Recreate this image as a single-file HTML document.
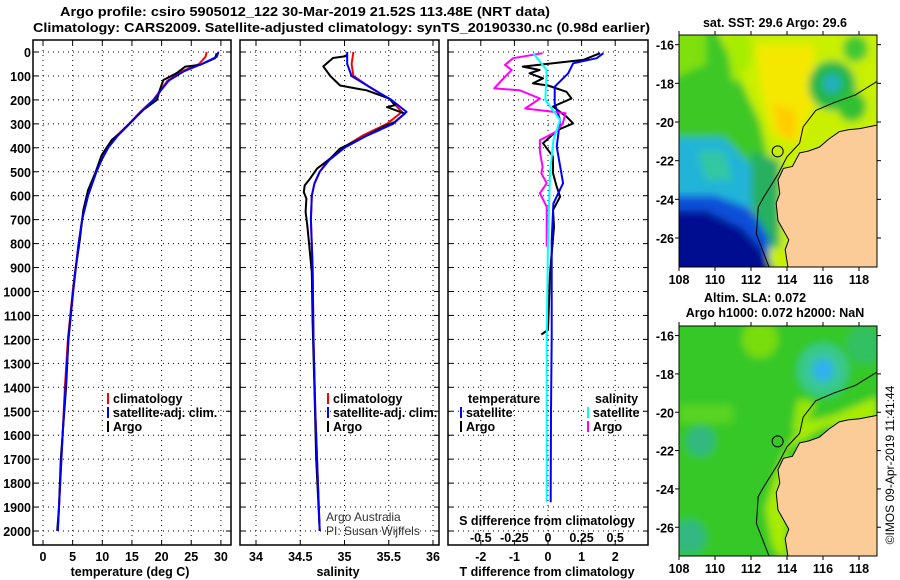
<!DOCTYPE html>
<html><head><meta charset="utf-8"><style>
html,body{margin:0;padding:0;background:#fff;}
svg{display:block;font-family:"Liberation Sans",Arial,sans-serif;}
.b{font-weight:bold;font-size:12.5px;}
.t{font-weight:bold;font-size:13px;}
.n{font-weight:normal;font-size:12px;}
</style></head><body>
<svg id="fig" width="900" height="580" viewBox="0 0 900 580">
<defs>
<clipPath id="c1"><rect x="33" y="40" width="198" height="505"/></clipPath>
<clipPath id="c2"><rect x="240" y="40" width="199" height="505"/></clipPath>
<clipPath id="c3"><rect x="448" y="40" width="200" height="505"/></clipPath>
<clipPath id="m1"><rect x="679" y="35" width="198" height="232"/></clipPath>
<clipPath id="m2"><rect x="679" y="326" width="198" height="230"/></clipPath>
<filter id="bl" x="-20%" y="-20%" width="140%" height="140%"><feGaussianBlur stdDeviation="4"/></filter>
</defs>
<text x="60" y="16" class="t" textLength="490" lengthAdjust="spacingAndGlyphs">Argo profile: csiro 5905012_122 30-Mar-2019 21.52S 113.48E (NRT data)</text>
<text x="33" y="32" class="t" textLength="617" lengthAdjust="spacingAndGlyphs">Climatology: CARS2009. Satellite-adjusted climatology: synTS_20190330.nc (0.98d earlier)</text>
<g id="panels"></g>
<g id="maps"></g>
</svg>
<script>
// ---- depth axis ----
const depthTicks=[0,100,200,300,400,500,600,700,800,900,1000,1100,1200,1300,1400,1500,1600,1700,1800,1900,2000];
// ---- temperature panel data ----
const tempTicks=[0,5,10,15,20,25,30];
const argoTDepth=[5,26,54,61,89,117,158,200,242,284,339,367,430,506,576,660,785,924,1064,1190,1400,1500,1700,1900,2000];
const argoT=[29.3,29.0,26.5,24.0,22.5,20.3,19.7,19.2,16.9,15.2,13.0,11.6,9.9,8.8,7.6,6.8,6.2,5.4,4.8,4.3,3.9,3.6,3.0,2.7,2.4];
const climTDepth=[0,20,50,80,120,160,200,250,300,350,400,450,500,600,700,800,1000,1200,1400,1600,1800,2000];
const climT=[27.6,27.4,26.3,23.5,21.0,19.8,18.6,16.4,14.5,12.4,10.9,9.8,9.0,7.5,6.6,6.0,5.0,4.2,3.7,3.3,2.9,2.5];
const satT=[29.6,29.3,26.8,23.8,21.2,19.9,18.7,16.5,14.6,12.6,11.0,9.9,9.0,7.6,6.6,6.0,5.1,4.3,3.8,3.3,2.9,2.5];
// ---- salinity panel data ----
const salTicks=[34,34.5,35,35.5,36];
const argoSDepth=[10,17,25,60,100,140,153,160,195,222,230,250,257,292,312,362,403,445,487,529,557,585,612,668,724,919,1128,1400,1700,2000];
const argoS=[35.02,35.02,34.87,34.76,34.84,34.95,35.14,35.25,35.51,35.57,35.48,35.63,35.68,35.57,35.44,35.18,34.95,34.84,34.69,34.61,34.55,34.54,34.57,34.56,34.58,34.63,34.64,34.66,34.68,34.72];
const climSDepth=[0,50,100,150,200,250,300,350,400,450,500,550,600,700,900,1200,1500,2000];
const climS=[35.1,35.08,35.1,35.3,35.52,35.65,35.48,35.2,34.98,34.82,34.72,34.66,34.63,34.62,34.64,34.65,34.67,34.72];
const satS=[35.03,35.03,35.08,35.3,35.53,35.7,35.55,35.25,35.0,34.83,34.72,34.66,34.63,34.62,34.64,34.65,34.67,34.72];
// ---- difference panel data ----
const diffTTicks=[-2,-1,0,1,2];
const diffSTicks=[-0.5,-0.25,0,0.25,0.5];
const diffSTickLabels=["-0.5","-0.25","0","0.25","0.5"];
const satDTDepth=[5,26,47,89,145,214,284,395,548,632,785,1190,1500,1880];
const satDT=[1.65,1.45,0.75,0.6,0.2,0.2,0.36,0.26,0.45,0.16,0.11,0.11,0.09,0.08];
const argoDTDepth=[5,33,47,61,75,89,110,131,140,166,194,228,270,298,325,381,437,506,562,604,660,730,924,1160,1180];
const argoDT=[1.55,1.05,0.15,-0.75,-0.25,-0.55,-0.15,-0.45,0,0.55,0.7,0.15,0.55,0.75,0.3,-0.15,0.15,0.15,0.26,0.36,0.15,0.18,0.06,0,-0.2];
const argoDSDepth=[5,26,54,75,103,152,160,194,236,256,298,333,368,416,480,506,548,590,646,813];
const argoDS=[-0.04,-0.26,-0.32,-0.27,-0.32,-0.4,-0.21,-0.06,-0.17,0.13,0.11,0.06,-0.06,-0.06,-0.04,-0.05,-0.01,-0.06,-0.01,-0.01];
const satDSDepth=[5,75,200,284,367,506,785,1200,1500,1880];
const satDS=[-0.11,-0.01,-0.02,0.09,0.04,0.015,0,-0.01,-0.01,-0.01];

const NS='http://www.w3.org/2000/svg';
function mk(tag,attrs,parent,text){const e=document.createElementNS(NS,tag);for(const k in attrs)e.setAttribute(k,attrs[k]);if(text!==undefined)e.textContent=text;parent.appendChild(e);return e;}
const yD=d=>52+d*0.2395;
const xT=t=>43+5.93*t;
const xS=s=>256+88.5*(s-34);
const xDT=t=>548+33.6*t;
const xDS=s=>548+134.4*s;
const P=document.getElementById('panels');

function panel(x0,x1,xTicks,xf,name){
  const g=mk('g',{},P);
  
  
  depthTicks.forEach(d=>{const l=mk('line',{x1:x0,x2:x1,y1:yD(d),y2:yD(d),stroke:'#000','stroke-width':1,'stroke-dasharray':'1,4'},g);
    
    mk('line',{x1:x0,x2:x0+5,y1:yD(d),y2:yD(d),stroke:'#000'},g);mk('line',{x1:x1,x2:x1-5,y1:yD(d),y2:yD(d),stroke:'#000'},g);});
  xTicks.forEach(v=>{const x=xf(v);const l=mk('line',{x1:x,x2:x,y1:40,y2:545,stroke:'#000','stroke-width':1,'stroke-dasharray':'1,4'},g);
    
    mk('line',{x1:x,x2:x,y1:545,y2:540,stroke:'#000'},g);mk('line',{x1:x,x2:x,y1:40,y2:45,stroke:'#000'},g);});
  const r=mk('rect',{x:x0,y:40,width:x1-x0,height:505,fill:'none',stroke:'#000','stroke-width':1.5},g);
  
  return g;
}
function series(g,depths,vals,xf,color,clip,name,w){
  const pts=depths.map((d,i)=>xf(vals[i]).toFixed(1)+','+yD(d).toFixed(1)).join(' ');
  const p=mk('polyline',{points:pts,fill:'none',stroke:color,'stroke-width':w||2,'stroke-linejoin':'round','clip-path':'url(#'+clip+')'},g);
  
}
function txt(g,x,y,s,cls,name,anchor,extra){
  const t=mk('text',Object.assign({x:x,y:y,class:cls||'b','text-anchor':anchor||'start'},extra||{}),g,s);
  return t;
}
function legendEntry(g,x,y,color,label){
  const l=mk('line',{x1:x,x2:x,y1:y-10,y2:y+1,stroke:color,'stroke-width':2},g);
  
  txt(g,x+5,y,label,'b','legend-entry');
}
depthTicks.forEach(d=>txt(P,31,yD(d)+5,String(d),'b','depth-tick-label','end'));

// panel 1
const g1=panel(33,231,tempTicks,xT,'temperature-panel');
series(g1,climTDepth,climT,xT,'#f00','c1','climatology-temperature-line');
series(g1,argoTDepth,argoT,xT,'#000','c1','argo-temperature-line');
series(g1,climTDepth,satT,xT,'#00f','c1','satellite-temperature-line');
tempTicks.forEach(v=>txt(g1,xT(v),561,String(v),'b','temperature-tick-label','middle'));
txt(g1,130,576,'temperature (deg C)','b','temperature-axis-title','middle');
legendEntry(g1,108,403,'#f00','climatology');
legendEntry(g1,108,417,'#00f','satellite-adj. clim.');
legendEntry(g1,108,431,'#000','Argo');

// panel 2
const g2=panel(240,439,salTicks,xS,'salinity-panel');
series(g2,climSDepth,climS,xS,'#f00','c2','climatology-salinity-line');
series(g2,argoSDepth,argoS,xS,'#000','c2','argo-salinity-line');
series(g2,climSDepth,satS,xS,'#00f','c2','satellite-salinity-line');
salTicks.forEach(v=>txt(g2,xS(v),561,String(v),'b','salinity-tick-label','middle'));
txt(g2,338,576,'salinity','b','salinity-axis-title','middle');
legendEntry(g2,328,403,'#f00','climatology');
legendEntry(g2,328,417,'#00f','satellite-adj. clim.');
legendEntry(g2,328,431,'#000','Argo');
txt(g2,326,521,'Argo Australia','n','credit-line-1','start',{fill:'#333'});
txt(g2,326,535,'PI: Susan Wijffels','n','credit-line-2','start',{fill:'#333'});

// panel 3
const g3=panel(448,648,diffTTicks,xDT,'difference-panel');
series(g3,argoDTDepth,argoDT,xDT,'#000','c3','argo-temperature-difference-line');
series(g3,satDTDepth,satDT,xDT,'#00f','c3','satellite-temperature-difference-line');
series(g3,argoDSDepth,argoDS,xDS,'#f0f','c3','argo-salinity-difference-line');
series(g3,satDSDepth,satDS,xDS,'#0ff','c3','satellite-salinity-difference-line');
diffTTicks.forEach(v=>txt(g3,xDT(v),561,String(v),'b','t-difference-tick-label','middle'));
diffSTicks.forEach((v,i)=>txt(g3,xDS(v),542,diffSTickLabels[i],'b','s-difference-tick-label','middle'));
txt(g3,547,525,'S difference from climatology','b','s-difference-axis-title','middle');
txt(g3,547,576,'T difference from climatology','b','t-difference-axis-title','middle');
txt(g3,468,403,'temperature','b','legend-title-temperature');
txt(g3,595,403,'salinity','b','legend-title-salinity');
legendEntry(g3,461,417,'#00f','satellite');
legendEntry(g3,461,431,'#000','Argo');
legendEntry(g3,588,417,'#0ff','satellite');
legendEntry(g3,588,431,'#f0f','Argo');

// ---- maps ----
const M=document.getElementById('maps');
const lonTicks=[108,110,112,114,116,118];
const latTicks=[-16,-18,-20,-22,-24,-26];
const coast=[[119,-20.16],[118.04,-20.34],[117.4,-20.4],[116.9,-20.5],[116.3,-20.9],[115.8,-21.3],[115.2,-21.5],[114.7,-21.6],[114.3,-22.3],[113.8,-22.4],[113.5,-23.0],[113.6,-23.7],[113.4,-24.2],[113.5,-25.1],[114.1,-26.1],[113.9,-26.6],[114.05,-27.5]];
const shelf=[[119,-17.9],[117.8,-18.6],[116.6,-19.0],[115.6,-19.4],[114.9,-20.25],[114.7,-21.1],[114.0,-21.8],[113.5,-22.7],[112.7,-23.9],[112.4,-24.4],[112.3,-25.8],[113.0,-27.5]];
function mapAxes(x0,y0,y1,latTop,latBot){
  const lx=lon=>x0+(lon-108)*18;
  const ly=lat=>y0+(latTop-lat)*(y1-y0)/(latTop-latBot);
  return [lx,ly];
}
function drawMap(y0,y1,clip,name,fields){
  const g=mk('g',{},M);
  
  const [lx,ly]=mapAxes(679,y0,y1,-15.5,-27.5);
  const f=mk('g',{'clip-path':'url(#'+clip+')'},g);
  const blur=mk('g',{filter:'url(#bl)'},f);
  fields(blur,lx,ly);
  let lp=mk('polygon',{points:coast.concat([[114.05,-28],[120,-28],[120,-20.16]]).map(p=>lx(p[0])+','+ly(p[1])).join(' '),fill:'#fccc98',stroke:'#000','stroke-width':1},f);
  
  let sp=mk('polyline',{points:shelf.map(p=>lx(p[0])+','+ly(p[1])).join(' '),fill:'none',stroke:'#000','stroke-width':1},f);
  
  let c=mk('circle',{cx:lx(113.48),cy:ly(-21.52),r:5.5,fill:'none',stroke:'#000','stroke-width':1},f);
  
  let fr=mk('rect',{x:679,y:y0,width:198,height:y1-y0,fill:'none',stroke:'#000','stroke-width':1},g);
  
  latTicks.forEach(v=>{mk('line',{x1:679,x2:675,y1:ly(v),y2:ly(v),stroke:'#000'},g);mk('line',{x1:877,x2:881,y1:ly(v),y2:ly(v),stroke:'#000'},g);
    txt(g,674,ly(v)+5,String(v),'b','map-latitude-label','end');});
  lonTicks.forEach(v=>{mk('line',{x1:lx(v),x2:lx(v),y1:y1,y2:y1+4,stroke:'#000'},g);mk('line',{x1:lx(v),x2:lx(v),y1:y0,y2:y0-4,stroke:'#000'},g);
    txt(g,lx(v),y1+17,String(v),'b','map-longitude-label','middle');});
}
function poly(g,lx,ly,pts,col){mk('polygon',{points:pts.map(p=>lx(p[0])+','+ly(p[1])).join(' '),fill:col},g);}
function blob(g,lx,ly,lon,lat,r,col){mk('ellipse',{cx:lx(lon),cy:ly(lat),rx:r*18,ry:r*19,fill:col},g);}
drawMap(35,267,'m1','sst-map',(g,lx,ly)=>{
  poly(g,lx,ly,[[107,-15],[120,-15],[120,-28],[107,-28]],'#c8f000');
  poly(g,lx,ly,[[107,-15],[110,-15],[111,-17],[112,-19],[112.5,-20],[113,-22],[112,-24],[107,-24]],'#3cc828');
  poly(g,lx,ly,[[107,-15],[109.5,-15],[109.5,-17],[107,-18]],'#80e010');
  poly(g,lx,ly,[[110.5,-15],[112,-15],[112,-17],[111,-18]],'#a8ec00');
  poly(g,lx,ly,[[112.3,-16],[115.5,-16],[115.5,-19],[114.6,-21.2],[113.2,-20.6],[112.5,-18]],'#f4e800');
  poly(g,lx,ly,[[113.3,-19],[114.5,-19.5],[114.4,-21],[113.5,-20.5]],'#ffcc00');
  blob(g,lx,ly,116.5,-18.1,1.3,'#20b848');blob(g,lx,ly,116.5,-18,0.5,'#20b0c0');
  blob(g,lx,ly,117.6,-19.2,0.8,'#30c030');blob(g,lx,ly,117.8,-16.2,0.7,'#40c830');
  poly(g,lx,ly,[[107,-20.8],[110.5,-20.8],[112.3,-22.5],[112.5,-24.5],[107,-24.5]],'#20b4d8');
  poly(g,lx,ly,[[109,-21.5],[110.5,-21.5],[111,-23],[109.5,-23]],'#30c8a0');
  poly(g,lx,ly,[[112,-21.5],[113.6,-22],[113.6,-26.5],[112.6,-26.5],[112,-24]],'#28b060');
  poly(g,lx,ly,[[107,-23.8],[110,-23.8],[112,-24.5],[113,-26],[113,-28],[107,-28]],'#0850d8');
  poly(g,lx,ly,[[107,-24.6],[109.5,-24.6],[111.5,-25.5],[112.5,-26.5],[113.5,-28],[107,-28]],'#000c90');
});
drawMap(326,556,'m2','sea-level-anomaly-map',(g,lx,ly)=>{
  poly(g,lx,ly,[[107,-15],[120,-15],[120,-28],[107,-28]],'#34c828');
  poly(g,lx,ly,[[119,-19.2],[116.5,-20.2],[115,-20.5],[114.2,-21.5],[113.6,-22.6],[113.2,-23.8],[112.8,-25],[113.2,-27],[114,-28],[114,-22],[116,-20.8],[119,-20.4]],'#a8ec00');
  poly(g,lx,ly,[[114.6,-19.3],[115.6,-19.5],[115,-20.8],[114.3,-21]],'#98e800');
  poly(g,lx,ly,[[108,-19.6],[111,-19.6],[111,-20.6],[108,-20.6]],'#58d420');
  blob(g,lx,ly,116,-17.8,1.4,'#38c890');blob(g,lx,ly,116,-17.8,0.6,'#30b0f0');
  blob(g,lx,ly,109.2,-21.5,0.8,'#30b880');blob(g,lx,ly,108.6,-26.5,0.9,'#30b880');
  blob(g,lx,ly,112.5,-16.2,1,'#78dc10');blob(g,lx,ly,118.3,-16.5,1,'#30c060');
});
txt(M,775,27,'sat. SST: 29.6 Argo: 29.6','b','sst-map-title','middle');
txt(M,755,302,'Altim. SLA: 0.072','b','sla-map-title','middle');
txt(M,775,317,'Argo h1000: 0.072 h2000: NaN','b','sla-map-subtitle','middle');
txt(M,894,465,'©IMOS 09-Apr-2019 11:41:44','n','timestamp-label','middle',{transform:'rotate(-90 894 465)','font-size':'12.5px'});
</script>
</body></html>
